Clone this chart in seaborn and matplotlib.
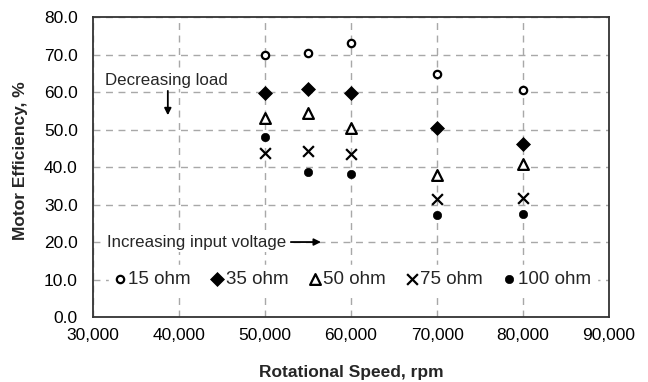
import matplotlib
matplotlib.use("Agg")
import matplotlib.pyplot as plt
import pandas as pd
import seaborn as sns

# values
speeds = [50000, 55000, 60000, 70000, 80000]
eff_15 = [70.0, 70.3, 73.0, 64.9, 60.5]
eff_35 = [59.7, 60.8, 59.7, 50.3, 46.2]
eff_50 = [53.0, 54.4, 50.5, 38.0, 40.7]
eff_75 = [43.7, 44.4, 43.4, 31.5, 31.8]
eff_100 = [48.0, 38.6, 38.2, 27.2, 27.4]

series_names = ["15 ohm", "35 ohm", "50 ohm", "75 ohm", "100 ohm"]
x_ticks = [30000, 40000, 50000, 60000, 70000, 80000, 90000]
y_ticks = [0, 10, 20, 30, 40, 50, 60, 70, 80]

sns.set_style("white")
plt.rcParams["font.family"] = ["Liberation Sans", "DejaVu Sans"]

df = pd.DataFrame({
	"speed": speeds * 5,
	"eff": eff_15 + eff_35 + eff_50 + eff_75 + eff_100,
	"load": [name for name in series_names for _ in speeds],
})

styles = {
	"15 ohm": dict(marker="o", s=28, facecolor="white", edgecolor="black", linewidth=1.6),
	"35 ohm": dict(marker="D", s=50, color="black", edgecolor="black"),
	"50 ohm": dict(marker="^", s=60, facecolor="white", edgecolor="black", linewidth=1.6),
	"75 ohm": dict(marker="x", s=60, color="black", linewidth=1.6),
	"100 ohm": dict(marker="o", s=36, color="black", edgecolor="black"),
}

fig = plt.figure(figsize=(6.48, 3.82), dpi=100)
ax = fig.add_axes([0.1435, 0.170, 0.7965, 0.7855])

for name in series_names:
	sub = df[df["load"] == name]
	sns.scatterplot(data=sub, x="speed", y="eff", ax=ax, label=name, zorder=3, **styles[name])

ax.set_xlim(30000, 90000)
ax.set_ylim(0, 80)
ax.set_xticks(x_ticks)
ax.set_yticks(y_ticks)
ax.set_xticklabels([f"{v:,}" for v in x_ticks])
ax.set_yticklabels([f"{v:.1f}" for v in y_ticks])
ax.tick_params(axis="both", direction="in", length=4, width=1, colors="black", labelsize=12.5)
ax.tick_params(axis="y", pad=11)
ax.tick_params(axis="x", pad=8)

ax.grid(True, color="#a8a8a8", linestyle=(0, (5, 4)), linewidth=1)
ax.set_axisbelow(True)
for side in ax.spines.values():
	side.set_color("#333333")
	side.set_linewidth(1.3)

ax.set_xlabel("Rotational Speed, rpm", fontsize=12.5, fontweight="bold", labelpad=16)
ax.set_ylabel("Motor Efficiency, %", fontsize=12.5, fontweight="bold")
ax.yaxis.set_label_coords(-0.125, 0.52)

ax.text(31400, 61, "Decreasing load", fontsize=12.2, va="bottom", ha="left",
	bbox=dict(facecolor="white", edgecolor="none", pad=0.5))
ax.annotate("", xy=(38700, 53.8), xytext=(38700, 60.3),
	arrowprops=dict(arrowstyle="-|>", color="black", lw=1.3, mutation_scale=10,
		shrinkA=0, shrinkB=0))
ax.text(31600, 20, "Increasing input voltage", fontsize=12.2, va="center", ha="left",
	bbox=dict(facecolor="white", edgecolor="none", pad=1.5))
ax.annotate("", xy=(56500, 20), xytext=(53000, 20),
	arrowprops=dict(arrowstyle="-|>", color="black", lw=1.3, mutation_scale=10,
		shrinkA=0, shrinkB=0))

ax.legend(loc="center", bbox_to_anchor=(0.503, 0.127), ncol=5, fontsize=13.5,
	frameon=True, facecolor="white", edgecolor="white", framealpha=1,
	handlelength=0.6, handletextpad=0.15, columnspacing=1.1, borderpad=0.3)

fig.savefig("out.png", dpi=100)
